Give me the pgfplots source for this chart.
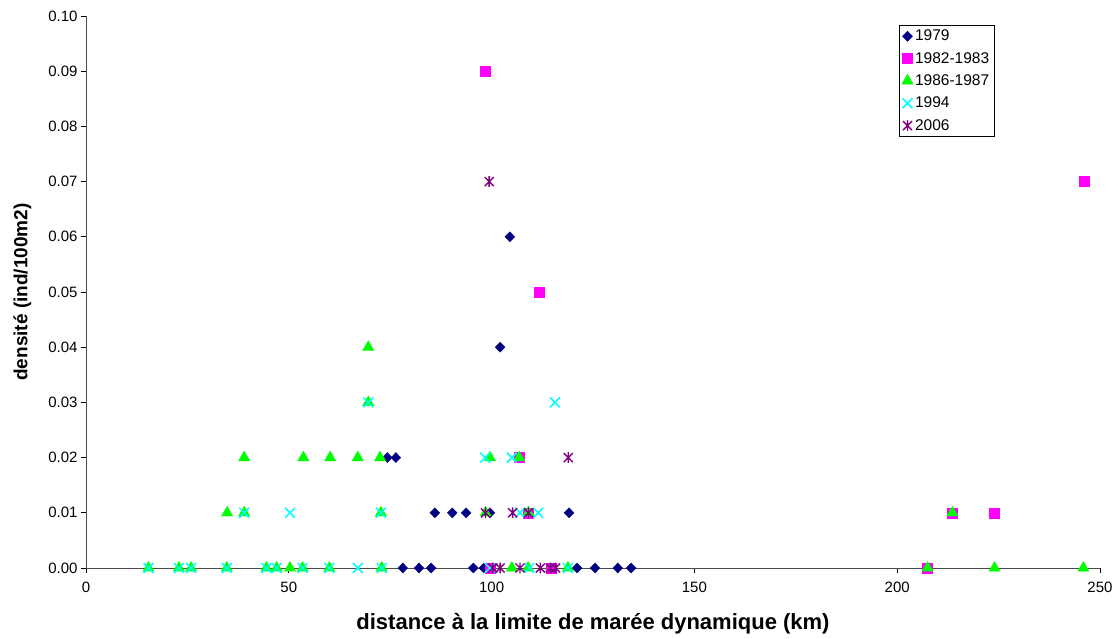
\documentclass[border=0pt]{standalone}
\usepackage{pgfplots}
\pgfplotsset{compat=1.18}
\usepackage{fontspec}
\setmainfont{Liberation Sans}
\definecolor{cA}{RGB}{0,0,128}
\definecolor{cB}{RGB}{255,0,255}
\definecolor{cC}{RGB}{0,255,0}
\definecolor{cD}{RGB}{0,255,255}
\definecolor{cE}{RGB}{128,0,128}
\pgfdeclareplotmark{xstar}{%
  \pgfpathmoveto{\pgfqpoint{-\pgfplotmarksize}{-\pgfplotmarksize}}%
  \pgfpathlineto{\pgfqpoint{\pgfplotmarksize}{\pgfplotmarksize}}%
  \pgfpathmoveto{\pgfqpoint{-\pgfplotmarksize}{\pgfplotmarksize}}%
  \pgfpathlineto{\pgfqpoint{\pgfplotmarksize}{-\pgfplotmarksize}}%
  \pgfpathmoveto{\pgfqpoint{0pt}{-1.2\pgfplotmarksize}}%
  \pgfpathlineto{\pgfqpoint{0pt}{1.2\pgfplotmarksize}}%
  \pgfusepathqstroke}
\begin{document}
\begin{tikzpicture}
\begin{axis}[
  scale only axis,
  width=1014pt, height=552pt,
  xmin=0, xmax=250, ymin=0, ymax=0.10,
  axis lines=left,
  axis line style={-, draw=black!70, line width=0.8pt},
  xtick={0,50,100,150,200,250},
  ytick={0,0.01,...,0.10},
  tick align=outside,
  tick style={black, line width=0.8pt},
  major tick length=5pt,
  /pgf/number format/assume math mode=true,
  yticklabel style={/pgf/number format/.cd, fixed, fixed zerofill, precision=2},
  xticklabel style={yshift=-5pt},
  scaled y ticks=false,
  ticklabel style={font=\fontsize{15}{17}\selectfont},
  xlabel={distance à la limite de marée dynamique (km)},
  ylabel={densité (ind/100m2)},
  xlabel style={font=\fontsize{22}{25}\selectfont\bfseries, yshift=-14pt},
  ylabel style={font=\fontsize{19}{22}\selectfont\bfseries, yshift=10pt},
  clip=false,
  legend style={at={(0.896,0.984)}, anchor=north east, draw=black, line width=0.6pt,
    font=\fontsize{15.5}{17}\selectfont, row sep=6pt, inner sep=3pt,
    legend cell align=left},
  legend image code/.code={\draw[#1] plot coordinates {(0.2cm,0cm)};},
]
\addplot[only marks, mark=diamond*, mark size=5pt, mark options={xscale=1.3}, color=cA] coordinates {
(74.3,0.02) (76.4,0.02) (86.0,0.01) (90.3,0.01) (93.7,0.01) (99.6,0.01)
(102.1,0.04) (104.5,0.06) (119.1,0.01)
(78.1,0) (82.1,0) (85.1,0) (95.5,0) (98.1,0) (121.1,0) (125.5,0) (131.1,0) (134.4,0)
};
\addlegendentry{1979}
\addplot[only marks, mark=square*, mark size=5pt, color=cB] coordinates {
(98.4,0.09) (111.7,0.05) (246.0,0.07) (106.8,0.02) (109.1,0.01) (213.6,0.01) (224.0,0.01)
(99.6,0) (114.8,0) (207.5,0)
};
\addlegendentry{1982-1983}
\addplot[only marks, mark=triangle*, mark size=6.5pt, color=cC] coordinates {
(69.6,0.04) (69.6,0.03)
(39.0,0.02) (53.6,0.02) (60.2,0.02) (67.0,0.02) (72.5,0.02) (99.6,0.02) (106.8,0.02)
(34.8,0.01) (39.0,0.01) (72.7,0.01) (98.5,0.01) (109.1,0.01) (213.6,0.01)
(15.4,0) (22.9,0) (25.9,0) (34.7,0) (44.5,0) (47.0,0) (50.3,0) (53.4,0) (60.0,0) (72.9,0)
(105.0,0) (109.0,0) (118.8,0) (207.5,0) (224.0,0) (245.9,0)
};
\addlegendentry{1986-1987}
\addplot[only marks, mark=x, mark size=7pt, line width=1.5pt, color=cD] coordinates {
(115.6,0.03) (69.6,0.03) (98.4,0.02) (105.0,0.02)
(39.0,0.01) (50.3,0.01) (72.7,0.01) (107.0,0.01) (111.5,0.01)
(15.4,0) (22.9,0) (25.9,0) (34.7,0) (44.5,0) (47.0,0) (53.4,0) (60.0,0) (67.0,0) (72.9,0)
(99.5,0) (109.3,0) (118.8,0)
};
\addlegendentry{1994}
\addplot[only marks, mark=xstar, mark size=4.5pt, line width=1.4pt, color=cE] coordinates {
(99.4,0.07) (118.9,0.02) (98.5,0.01) (105.2,0.01) (109.1,0.01)
(100.3,0) (102.1,0) (107.0,0) (112.0,0) (114.5,0) (115.8,0)
};
\addlegendentry{2006}
\end{axis}
\pgfresetboundingbox
\path (current axis.south west) ++(-86pt,-71pt) rectangle ++(1118pt,639pt);
\end{tikzpicture}
\end{document}
